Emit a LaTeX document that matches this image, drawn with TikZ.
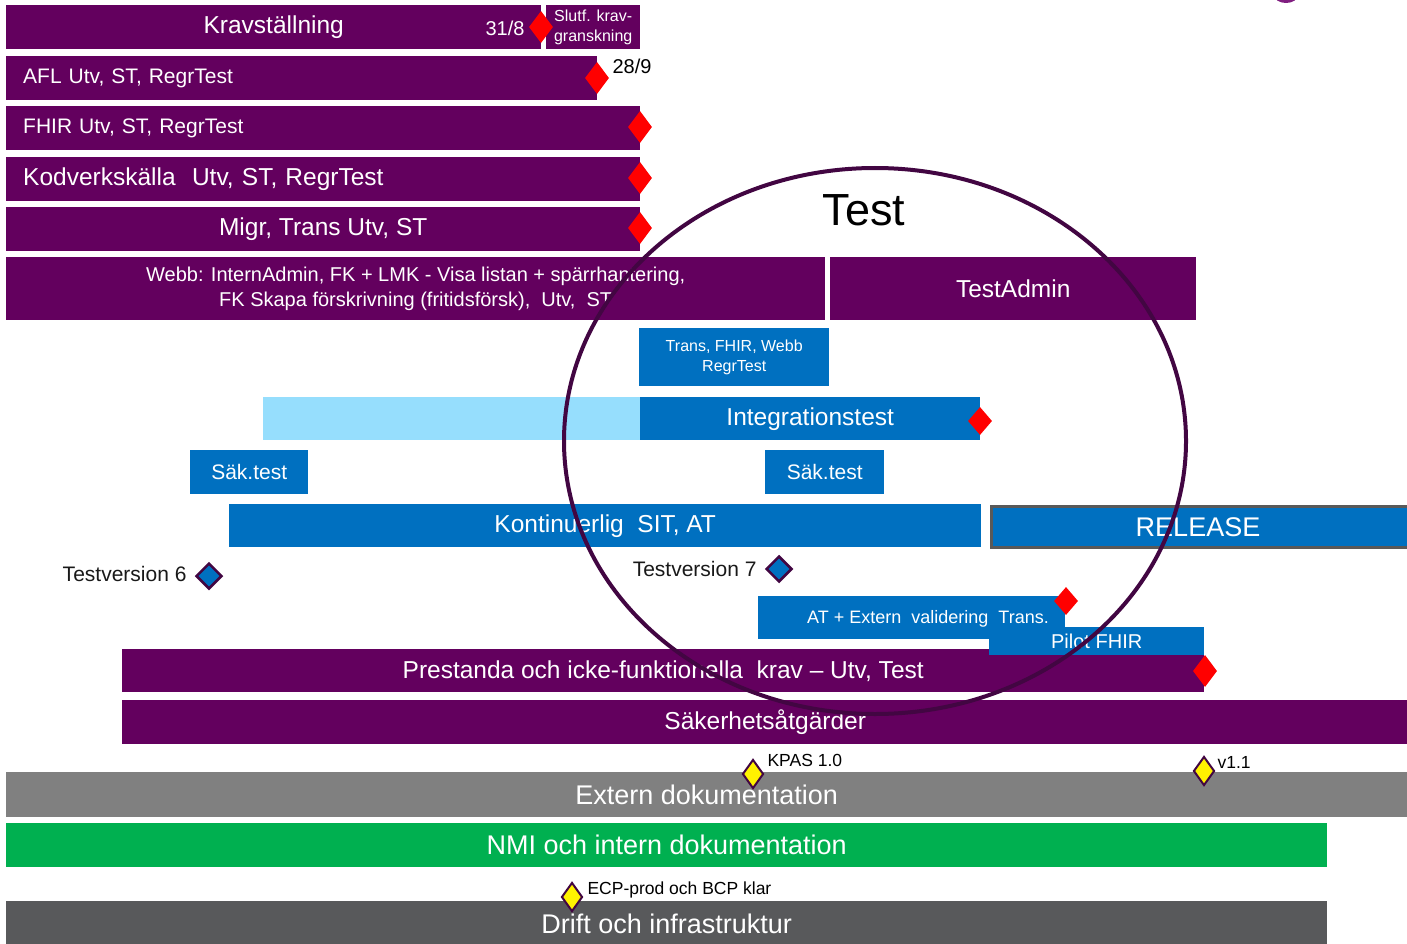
\documentclass[tikz,border=0pt]{standalone}
\usepackage{fontspec}
\setmainfont{Liberation Sans}
\usetikzlibrary{shapes.geometric}
\definecolor{kravpurple}{RGB}{99,0,94}
\definecolor{sitblue}{RGB}{0,112,192}
\definecolor{lightsit}{RGB}{150,222,253}
\definecolor{ringpurple}{RGB}{66,6,66}
\definecolor{blobpurple}{RGB}{128,30,128}
\definecolor{dokgray}{RGB}{128,128,128}
\definecolor{nmigreen}{RGB}{0,176,80}
\definecolor{driftgray}{RGB}{88,89,91}
\definecolor{relgray}{RGB}{89,89,89}
\tikzset{
  bar/.style={anchor=north west,inner sep=0pt,text=white,align=center},
  purplebar/.style={bar,fill=kravpurple},
  bluebar/.style={bar,fill=sitblue},
  leftbar/.style={purplebar,align=left,inner xsep=17pt},
  txtXL/.style={font=\fontsize{27}{32}\selectfont},
  txtL/.style={font=\fontsize{24.5}{29}\selectfont},
  txtM/.style={font=\fontsize{21}{25}\selectfont},
  txtS/.style={font=\fontsize{17.5}{21}\selectfont},
  txtXS/.style={font=\fontsize{16}{20}\selectfont},
  milestone/.style={diamond,fill=red,inner sep=0pt,minimum width=24pt,minimum height=32pt},
  testver/.style={diamond,draw=ringpurple,line width=2.5pt,fill=sitblue,inner sep=0pt,minimum size=26pt},
  docmark/.style={diamond,draw=ringpurple,line width=2pt,fill=yellow,inner sep=0pt,minimum width=21pt,minimum height=29pt}
}
\begin{document}
\begin{tikzpicture}[x=1pt,y=-1pt]
\useasboundingbox (0,0) rectangle (1407,944);
%BARS
\node[purplebar,minimum width=535,minimum height=44,txtL] (krav) at (6,5) {Kravställning};
\node[purplebar,minimum width=94,minimum height=44,txtXS] (slutf) at (546,5) {Slutf. krav-\\granskning};
\node[leftbar,text width=557,minimum height=44,txtM] (afl) at (6,56) {AFL Utv, ST, RegrTest};
\node[leftbar,text width=600,minimum height=44,txtM] (fhir) at (6,106) {FHIR Utv, ST, RegrTest};
\node[leftbar,text width=600,minimum height=44,txtL] (kodverk) at (6,157) {Kodverkskälla\ \ Utv, ST, RegrTest};
\node[purplebar,minimum width=634,minimum height=44,txtL] (migr) at (6,207) {Migr, Trans Utv, ST};
\node[purplebar,minimum width=819,minimum height=63,font=\fontsize{20}{25}\selectfont] (webb) at (6,257)
  {Webb: InternAdmin, FK + LMK - Visa listan + spärrhantering,\\FK Skapa förskrivning (fritidsförsk),\ \ Utv,\ \ ST};
\node[purplebar,minimum width=366,minimum height=63,txtL] (testadmin) at (830,257) {TestAdmin};
\node[bluebar,minimum width=190,minimum height=58,txtXS] (regr) at (639,328) {Trans, FHIR, Webb\\RegrTest};
\node[bar,fill=lightsit,minimum width=377,minimum height=43] (forint) at (263,397) {};
\node[bluebar,minimum width=340,minimum height=43,txtL] (integ) at (640,397) {Integrationstest};
\node[bluebar,minimum width=118,minimum height=44,txtM] (sak1) at (190,450) {Säk.test};
\node[bluebar,minimum width=119,minimum height=44,txtM] (sak2) at (765,450) {Säk.test};
\node[bluebar,minimum width=752,minimum height=43,txtL] (sit) at (229,504) {Kontinuerlig\ \ SIT, AT};
\node[bluebar,draw=relgray,line width=3pt,minimum width=440,minimum height=41] (release) at (990,505) {};
\node[text=white,font=\fontsize{27}{32}\selectfont] (reltxt) at (1198,527) {RELEASE};
\node[purplebar,minimum width=1082,minimum height=43,txtL] (prest) at (122,649) {Prestanda och icke-funktionella\ \ krav -- Utv, Test};
\node[bluebar,minimum width=307,minimum height=43] (atext) at (758,596) {};
\node[text=white,font=\fontsize{18}{22}\selectfont] (attxt) at (928,619) {AT + Extern\ \ validering\ \ Trans.};
\node[bluebar,minimum width=215,minimum height=28,font=\fontsize{20}{24}\selectfont] (pilot) at (989,627) {Pilot FHIR};
\node[purplebar,minimum width=1286,minimum height=44,txtL] (sakerhet) at (122,700) {Säkerhetsåtgärder};
\node[bar,fill=dokgray,minimum width=1401,minimum height=45,txtXL] (extdok) at (6,772) {Extern dokumentation};
\node[bar,fill=nmigreen,minimum width=1321,minimum height=44,txtXL] (nmi) at (6,823) {NMI och intern dokumentation};
\node[bar,fill=driftgray,minimum width=1321,minimum height=46,txtXL] (drift) at (6,901) {Drift och infrastruktur};

%MILESTONES
\node[text=white,anchor=east,font=\fontsize{20}{24}\selectfont] (d318) at (528,28) {31/8};
\node[milestone] (m318) at (541,27) {};
\node[milestone] (m289) at (597,78) {};
\node[anchor=west,font=\fontsize{20}{24}\selectfont] (d289) at (609,66) {28/9};
\node[milestone] (mfhir) at (640,127) {};
\node[milestone] (mkod) at (640,178) {};
\node[milestone] (mmigr) at (640,228) {};
\node[milestone,minimum height=28pt] (minteg) at (980,421) {};
\node[milestone,minimum height=28pt] (mat) at (1066,601) {};
\node[milestone] (mprest) at (1205,671) {};

\node[testver] (tv6) at (209,576) {};
\node[anchor=east,text=black!90,font=\fontsize{21}{25}\selectfont] (tv6lbl) at (190,574) {Testversion 6};
\node[testver] (tv7) at (779,569) {};
\node[anchor=east,text=black!90,font=\fontsize{21}{25}\selectfont] (tv7lbl) at (760,569) {Testversion 7};

\node[docmark] (kpas) at (753,774) {};
\node[anchor=west,txtS] (kpaslbl) at (764,760) {KPAS 1.0};
\node[docmark] (v11) at (1204,771) {};
\node[anchor=west,txtS] (v11lbl) at (1214,762) {v1.1};
\node[docmark] (ecp) at (572,897) {};
\node[anchor=west,txtS] (ecplbl) at (584,890) {ECP-prod och BCP klar};

%TEST RING
\node[ellipse,draw=ringpurple,line width=4pt,minimum width=622,minimum height=546] (testring) at (875,441) {};
\node[font=\fontsize{45}{54}\selectfont] (testlbl) at (864,210) {Test};
\fill[blobpurple] (1286,-5) ellipse (12 and 8);
\end{tikzpicture}
\end{document}
